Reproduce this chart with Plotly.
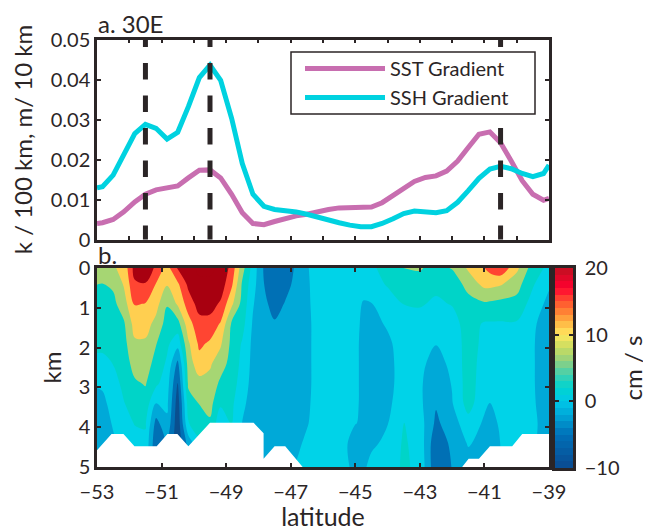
import plotly.graph_objects as go
import numpy as np

# The page body has an 8 px margin, so the figure is 643x523 and page pixels are shifted by OFF.
W, H, OFF = 643, 523, 8
INK = "#2b2526"
FONT = "Lato"

# --- panel a ---
lat_line = [-53, -52.83, -52.5, -52.17, -51.83, -51.5, -51.17, -50.83, -50.5, -50.17, -49.83, -49.5, -49.17,
            -48.83, -48.5, -48.17, -47.83, -47.5, -47.17, -46.83, -46.5, -46.17, -45.83, -45.5, -45.17, -44.83,
            -44.5, -44.17, -43.83, -43.5, -43.17, -42.83, -42.5, -42.17, -41.83, -41.5, -41.17, -40.83, -40.5,
            -40.17, -39.83, -39.5, -39.17, -39]
ssh_gradient = [.0129, .0132, .0161, .0211, .0265, .0288, .0278, .0251, .0268, .0332, .0405, .0436, .0398,
                .0303, .0190, .0113, .0083, .0075, .0073, .0069, .0063, .0055, .0048, .0042, .0036, .0032,
                .0032, .0040, .0052, .0065, .0071, .0069, .0067, .0072, .0093, .0122, .0153, .0176, .0183,
                .0177, .0165, .0157, .0165, .0186]
sst_gradient = [.0040, .0042, .0050, .0069, .0094, .0113, .0124, .0128, .0134, .0154, .0173, .0174, .0154,
                .0113, .0067, .0040, .0037, .0045, .0053, .0059, .0063, .0070, .0075, .0079, .0080, .0080,
                .0081, .0092, .0110, .0128, .0145, .0155, .0159, .0171, .0196, .0230, .0263, .0269, .0242,
                .0196, .0147, .0113, .0098, .0103]
front_lats = [-51.5, -49.5, -40.5]

# --- panel b ---
depth_km = [0, 0.4, 0.9, 1.4, 1.9, 2.4, 2.9, 3.4, 3.9, 4.4, 5]
lat_grid = [-53, -52.83, -52.5, -52.17, -51.83, -51.5, -51.17, -50.83, -50.5, -50.17, -49.83, -49.5, -49.17,
            -48.83, -48.5, -48.17, -47.83, -47.5, -47.17, -46.83, -46.5, -46.17, -45.5, -45, -44.75, -44.5, -44,
            -43.5, -43, -42.5, -42, -41.5, -41, -40.83, -40.5, -40, -39.5, -39]
velocity_by_lat = [
    [9, 6.7, 5.8, 5, 4, 2.6, .3, -1, -2, -2.5, -2.5],
    [9.3, 6.6, 5.8, 5, 4, 2.6, .5, -.8, -1.5, -2, -2],
    [9.6, 7.2, 5.8, 5.2, 4.3, 3.4, 2.3, 1.2, .3, -.5, -1],
    [11, 10.3, 8.5, 6.2, 5.6, 5, 4, 3.2, 2, 1.2, 1],
    [18, 16.2, 13.6, 11.4, 9.4, 7.9, 6.2, 4.6, 3.5, 2, 1.5],
    [19, 16.5, 13.2, 11.3, 9.5, 8.2, 6.9, 5.2, 3.7, 2.5, 2],
    [16, 13.2, 11.2, 9, 6.8, 5.5, 4, 0, -4.5, -6, -6],
    [12, 10.3, 6.9, 5.3, 4, 2.8, 1.5, .7, -.7, -3, -3],
    [17, 12.8, 10.5, 5.4, 1.3, -4.2, -6.9, -8.5, -9, -9, -9],
    [19, 17.5, 14.9, 12, 9.5, 8.3, 7.3, 5, 3.2, -2, -4],
    [20.5, 19.5, 18, 15.5, 14, 12, 8.8, 6.8, 4.7, 3, 3],
    [20.5, 19.5, 18, 15.5, 12.8, 10.4, 9, 7.7, 6.2, 5, 5],
    [19.5, 18.5, 16.2, 13, 10.4, 8.3, 5.9, 3.9, 1, 1, 1],
    [15.5, 14, 10.7, 6.2, 5.8, 5.3, 4.8, 4, 3.4, 3, 3],
    [8, 6.2, 5.5, 4.5, 3, 2.5, 1.8, .7, -.1, -.5, -.5],
    [2, 1.3, .3, -.4, -.8, -1, -1.2, -1.3, -1.5, -1.5, -1.5],
    [-3.7, -3.3, -2.8, -2.5, -2.3, -2.2, -2.2, -2.2, -2.2, -2.2, -2.2],
    [-5, -5, -4.2, -3.1, -2.7, -2.5, -2.4, -2.3, -2.2, -2.1, -2],
    [-4.5, -4, -3.2, -2.6, -2.4, -2.3, -2.2, -2, -1.6, -.9, -.4],
    [-3, -2.8, -2.5, -2.3, -2.2, -2.1, -2, -1.9, -1.5, -.6, .2],
    [-.2, -.3, -.4, -.5, -.5, -.5, -.5, -.4, -.2, .5, 1],
    [.9, .8, .8, .7, .7, .7, .7, .8, 1, 1.3, 3],
    [1.2, 1.1, 1, 1, .9, .9, .9, .9, .9, .9, .9],
    [1.5, 1.2, .8, .5, .4, .4, .4, .3, .05, -.8, -.5],
    [2, 1, -.2, -.4, -.5, -.5, -.5, -.4, -.2, -.7, -.5],
    [2.8, 1.8, -.1, -.8, -1, -1, -1, -1, -.6, -.5, .8],
    [4.5, 3.7, 1.5, .3, -.5, -.7, -.7, -.5, -.1, .6, 1.5],
    [6.7, 4.8, 3.4, 2, 1.2, 1, 1, 1.3, 3.5, 3.8, 3.9],
    [7, 5.2, 3.6, 2.2, 1.3, .7, .5, .7, 1.5, 2, 2.5],
    [5.5, 4, 2.9, 1.7, .1, -1.1, -2.2, -3, -4, -5.8, -6],
    [6.9, 4.5, 3.5, 2.2, 1.2, .7, .2, -.2, -1.5, -2.5, -3.2],
    [10.5, 8, 5.3, 4.6, 4.8, 5, 5, 4.8, 2, .3, -1.5],
    [13.3, 11, 6.2, 3, 2.5, 1.8, 1.4, .6, -.5, -1, -1],
    [14.5, 11, 6, 3, 2.5, 1.8, 1, -.05, -1.2, -2.5, -2.5],
    [16, 10.4, 5.6, 3, 2.3, 1.6, 1, .8, .5, .1, 0],
    [10.8, 8, 5.5, 3, 2.3, 1.7, 1.3, 1, .7, .5, .5],
    [5, 3.7, 2, .4, .2, .2, .2, .3, .5, .3, .3],
    [2.5, .5, -1, -1.3, -1.4, -1.4, -1.4, -1.4, -1.2, -1, -1],
]
bathy_lat_west = [-53, -52.55, -52.18, -51.84, -51.15, -50.82, -50.51, -50.17, -49.5, -48.15, -47.84, -47.84,
                  -47.5, -47.17, -46.63, -53]
bathy_depth_west = [4.58, 4.17, 4.17, 4.48, 4.48, 4.17, 4.17, 4.48, 3.89, 3.89, 4.15, 4.79, 4.48, 4.48, 5, 5]
bathy_lat_east = [-41.69, -41.49, -41.17, -40.83, -40.14, -39.83, -39, -39, -41.69]
bathy_depth_east = [5, 4.79, 4.79, 4.48, 4.48, 4.17, 4.17, 5, 5]

contour_levels = dict(start=-10, end=20, size=10 / 3)
band_colors = ["#0a4f8f", "#0070b5", "#00a9d8", "#00d3e8", "#00d4c8", "#a6d673", "#ffcf50", "#ff4532", "#a80010"]
cbar_values = np.arange(-9.5, 20.5, 1.0)
cbar_stops = [(-10, "#0a4a90"), (-5, "#0070b8"), (-2, "#00a8d8"), (0, "#00c8e8"), (2, "#00d4d0"), (4, "#40d0b0"),
              (6, "#90d080"), (8, "#c8dc60"), (10, "#ffe860"), (12, "#ffb040"), (14, "#ff7030"), (16, "#ff3030"),
              (17, "#ff0030"), (20, "#c01020")]

fig = go.Figure()

px = lambda p: (p - OFF) / W
py = lambda p: 1 - (p - OFF) / H
xa = lambda l, r: [px(l), px(r)]
ya = lambda t, b: [py(b), py(t)]

fig.add_trace(go.Scatter(x=lat_line, y=sst_gradient, mode="lines", name="SST Gradient",
                         line=dict(color="#c86eb0", width=5), xaxis="x", yaxis="y"))
fig.add_trace(go.Scatter(x=lat_line, y=ssh_gradient, mode="lines", name="SSH Gradient",
                         line=dict(color="#00d2e0", width=5), xaxis="x", yaxis="y"))
for lat in front_lats:
    fig.add_trace(go.Scatter(x=[lat, lat], y=[-0.0006, 0.05], mode="lines", showlegend=False,
                             line=dict(color=INK, width=5, dash="16.5px,16px"), xaxis="x", yaxis="y"))

z = np.array(velocity_by_lat, dtype=float).T
scale = [[0, band_colors[0]]]
for k, c in enumerate(band_colors):
    scale += [[(k + 0.5) / 10, c], [(k + 1.5) / 10, c]]
scale += [[1, band_colors[-1]]]
fig.add_trace(go.Contour(x=lat_grid, y=depth_km, z=z, autocontour=False, contours=dict(coloring="fill", showlines=False, **contour_levels),
                         colorscale=scale, zmin=-10, zmax=20, showscale=False, line=dict(width=0),
                         hoverinfo="skip", xaxis="x2", yaxis="y2"))
for blat, bdep in ((bathy_lat_west, bathy_depth_west), (bathy_lat_east, bathy_depth_east)):
    fig.add_trace(go.Scatter(x=blat, y=bdep, mode="lines", fill="toself", fillcolor="white",
                             line=dict(width=0, color="white"), showlegend=False, xaxis="x2", yaxis="y2"))

cb_scale = [[(v + 10) / 30, c] for v, c in cbar_stops]
fig.add_trace(go.Heatmap(x=[0], y=cbar_values, z=[[v] for v in cbar_values], colorscale=cb_scale, zmin=-10, zmax=20,
                         showscale=False, hoverinfo="skip", xaxis="x3", yaxis="y3"))

axis_common = dict(showgrid=False, zeroline=False, showline=True, mirror="allticks", linecolor=INK, linewidth=2.5,
                   ticks="inside", ticklen=4, tickwidth=2, tickcolor=INK, automargin=False,
                   tickfont=dict(family=FONT, size=20, color=INK))

fig.update_layout(
    width=W, height=H, margin=dict(l=0, r=0, t=0, b=0), paper_bgcolor="white", plot_bgcolor="white",
    font=dict(family=FONT, color=INK),
    xaxis=dict(domain=xa(97, 549), range=[-53, -39], tickvals=list(range(-53, -38)), showticklabels=False,
               anchor="y", **axis_common),
    yaxis=dict(domain=ya(39.5, 239.5), range=[0, 0.05], tickvals=[0, .01, .02, .03, .04, .05],
               ticktext=["0", "0.01", "0.02", "0.03", "0.04", "0.05"], anchor="x",
               title=dict(text="k / 100 km, m/ 10 km", font=dict(family=FONT, size=24, color=INK), standoff=16),
               **axis_common),
    xaxis2=dict(domain=xa(97, 549), range=[-53, -39], tickvals=list(range(-53, -38, 2)), anchor="y2",
                ticklabelstandoff=5,
                title=dict(text="latitude", font=dict(family=FONT, size=25, color=INK), standoff=5), **axis_common),
    yaxis2=dict(domain=ya(268, 467), range=[5, 0], tickvals=[0, 1, 2, 3, 4, 5], anchor="x2",
                title=dict(text="km", font=dict(family=FONT, size=24, color=INK), standoff=11), **axis_common),
    xaxis3=dict(domain=xa(555, 573), range=[-0.5, 0.5], showticklabels=False, ticks="", showline=True, mirror=True,
                linecolor=INK, linewidth=2.5, anchor="y3", showgrid=False, zeroline=False),
    yaxis3=dict(domain=ya(268, 468), range=[-10, 20], tickvals=[-10, 0, 10, 20], side="right", anchor="x3",
                ticklabelstandoff=5,
                title=dict(text="cm / s", font=dict(family=FONT, size=24, color=INK), standoff=7), **axis_common),
    shapes=[dict(type="rect", xref="paper", yref="paper", x0=px(291), x1=px(535), y0=py(114), y1=py(52),
                 fillcolor="white", line=dict(color=INK, width=1.5), layer="above")],
    legend=dict(x=px(300), y=py(49), xanchor="left", yanchor="top", xref="paper", yref="paper",
                bgcolor="rgba(0,0,0,0)", borderwidth=0, itemwidth=80,
                font=dict(family=FONT, size=20, color=INK)),
    annotations=[
        dict(text="a. 30E", x=px(96), y=py(24), xref="paper", yref="paper", xanchor="left", yanchor="middle",
             showarrow=False, font=dict(family=FONT, size=24, color=INK)),
        dict(text="b.", x=px(96), y=py(254), xref="paper", yref="paper", xanchor="left", yanchor="middle",
             showarrow=False, font=dict(family=FONT, size=24, color=INK)),
    ],
)
fig.write_html("out.html")
